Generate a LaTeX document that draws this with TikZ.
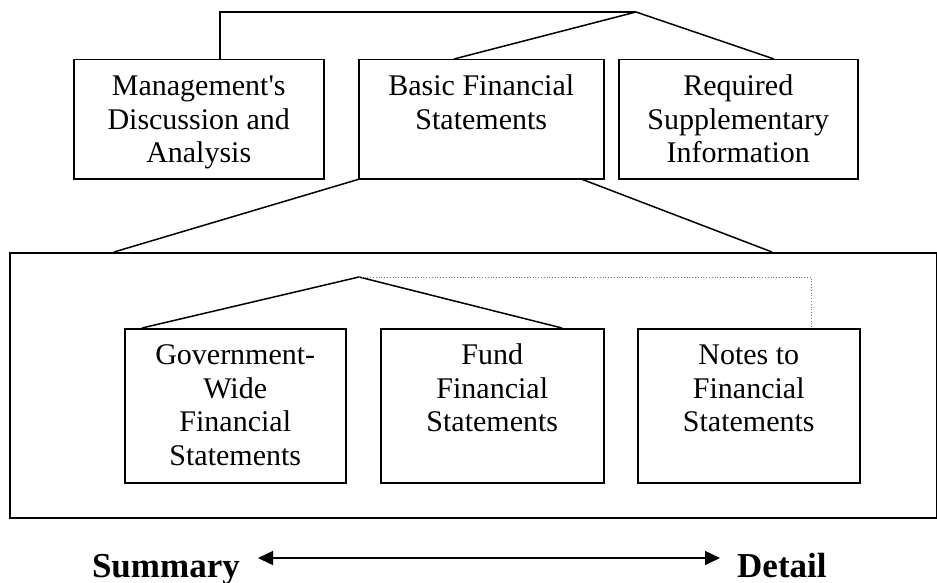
\documentclass[tikz,border=0pt]{standalone}
\usepackage{fontspec}
\setmainfont{Liberation Serif}[Ligatures=TeXOff]
\usetikzlibrary{arrows.meta}
\newcommand{\boxtext}[3]{\parbox[t][#2][t]{#1}{\centering\rule{0pt}{36pt}#3}}
\tikzset{
	box/.style={draw, line width=1.5pt, inner sep=0pt, anchor=north west,
		font=\fontsize{30}{33.5}\selectfont},
	link/.style={line width=1.5pt},
	lbl/.style={inner sep=0pt, font=\fontsize{35}{40}\selectfont\bfseries},
}
\begin{document}
\begin{tikzpicture}[x=1pt,y=-1pt]
		\useasboundingbox (0,0) rectangle (937,583);
		% top row
		\node[box] (mda) at (73,59) {\boxtext{250pt}{119pt}{Management's\\Discussion and\\Analysis}};
		\node[box] (basic) at (358,59) {\boxtext{245pt}{119pt}{Basic Financial\\Statements}};
		\node[box] (rsi) at (618,59) {\boxtext{239pt}{119pt}{Required\\Supplementary\\Information}};
		\coordinate (corner) at (220,12);
		\coordinate (peak) at (636,12);
		\draw[link] (mda.north -| corner) -- (corner) -- (peak);
		\draw[link] (peak) -- ([xshift=96pt]basic.north west);
		\draw[link] (peak) -- ([xshift=156pt]rsi.north west);
		% basic financial statements
		\node[box, minimum width=927pt, minimum height=265pt] (bfs) at (9,252) {};
		\draw[link] (basic.south west) -- ([xshift=105pt]bfs.north west);
		\draw[link] ([xshift=-22pt]basic.south east) -- ([xshift=763pt]bfs.north west);
		\node[box] (gws) at (124,328) {\boxtext{221pt}{154pt}{Government-\\Wide\\Financial\\Statements}};
		\node[box] (ffs) at (380,328) {\boxtext{223pt}{154pt}{Fund\\Financial\\Statements}};
		\node[box] (nfs) at (637,328) {\boxtext{222pt}{154pt}{Notes to\\Financial\\Statements}};
		\coordinate (apex) at (359,277);
		\draw[link] (apex) -- ([xshift=18pt]gws.north west);
		\draw[link] (apex) -- ([xshift=182pt]ffs.north west);
		\draw[dotted, gray, line width=0.8pt] (apex) -| ([xshift=174pt]nfs.north west);
		% summary - detail
		\node[lbl, anchor=base east] (summary) at (240,577) {Summary};
		\node[lbl, anchor=base west] (detail) at (737,577) {Detail};
		\draw[link, {Triangle[length=15pt,width=14pt]}-{Triangle[length=15pt,width=14pt]}]
			([xshift=18pt, yshift=19pt]summary.base east) -- ([xshift=-17pt, yshift=19pt]detail.base west);
	\end{tikzpicture}
\end{document}
